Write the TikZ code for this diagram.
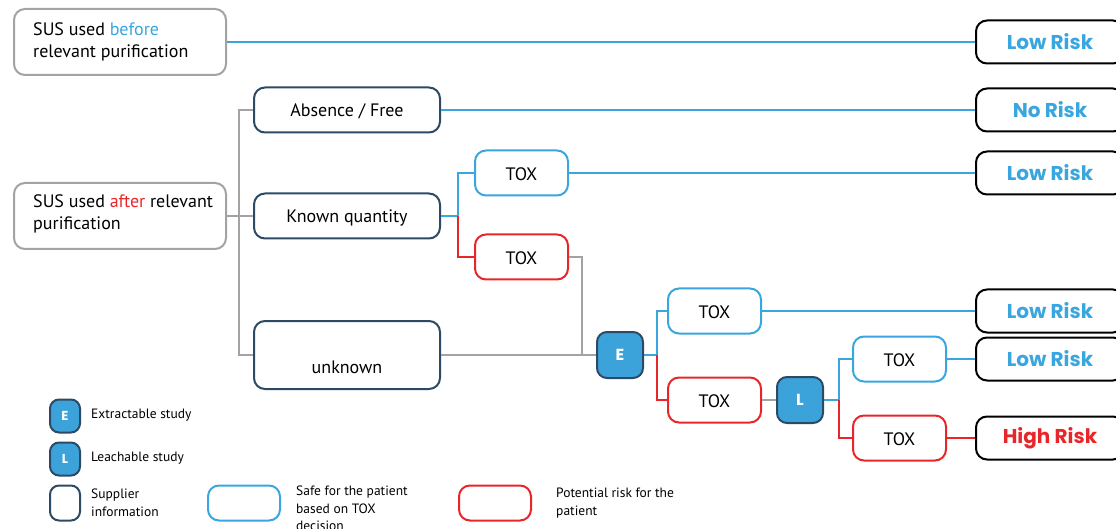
\documentclass[tikz,border=0pt]{standalone}
\usepackage{fontspec}
\setmainfont{PT Sans}
\newfontfamily\riskfont{Poppins}[UprightFont=* Bold]
\definecolor{cblue}{HTML}{3AA6DF}
\definecolor{cred}{HTML}{E8262A}
\definecolor{cgray}{HTML}{A3A3A3}
\definecolor{cnavy}{HTML}{2C4A66}
\definecolor{cfill}{HTML}{3BA3DA}
\tikzset{
  base/.style={rounded corners=11pt, line width=2pt, fill=white, inner sep=0pt, font=\fontsize{18}{22}\selectfont},
  susbox/.style={base, draw=cgray, minimum width=212pt, minimum height=66pt},
  supbox/.style={base, draw=cnavy, minimum width=186pt, minimum height=45pt},
  safebox/.style={base, draw=cblue, minimum width=93pt, minimum height=45pt},
  riskbox/.style={base, draw=cred, minimum width=93pt, minimum height=45pt},
  outbox/.style={base, draw=black, minimum width=148pt, minimum height=43pt, font=\riskfont\fontsize{20}{22}\selectfont},
  studybox/.style={rounded corners=10pt, line width=2pt, draw=cnavy, fill=cfill, text=white, minimum width=46pt, minimum height=46pt, inner sep=0pt, font=\riskfont\fontsize{16}{18}\selectfont},
  legicon/.style={rounded corners=9pt, line width=2pt, draw=cnavy, fill=cfill, text=white, minimum width=30pt, minimum height=33pt, inner sep=0pt, font=\riskfont\fontsize{13}{15}\selectfont},
  legtext/.style={anchor=west, align=left, inner sep=0pt, font=\fontsize{13.5}{17.5}\selectfont},
  maintext/.style={inner sep=0pt, font=\fontsize{18}{22}\selectfont},
  gl/.style={draw=cgray, line width=2pt},
  bl/.style={draw=cblue, line width=2pt},
  rl/.style={draw=cred, line width=2pt},
}
\begin{document}
\begin{tikzpicture}[x=1pt,y=-1pt]
\useasboundingbox (0,0) rectangle (1116,529);
\clip (0,0) rectangle (1116,529);
% boxes
\node[susbox] (sus1) at (120,42) {};
\node[susbox] (sus2) at (120,216) {};
\node[supbox] (abs) at (347,110) {};
\node[supbox] (known) at (347,216) {};
\node[supbox, minimum height=68pt] (unk) at (347,355) {};
\node[safebox] (tox1) at (521.5,173) {};
\node[riskbox] (tox2) at (521.5,257) {};
\node[studybox] (E) at (620,355) {E};
\node[safebox] (tox3) at (714.5,311) {};
\node[riskbox] (tox4) at (714.5,400) {};
\node[studybox] (L) at (800,400) {L};
\node[safebox] (tox5) at (899.5,359) {};
\node[riskbox] (tox6) at (899.5,438) {};
\node[outbox, text=cblue] (r1) at (1050,42) {Low Risk};
\node[outbox, text=cblue] (r2) at (1050,110) {No Risk};
\node[outbox, text=cblue] (r3) at (1050,173) {Low Risk};
\node[outbox, text=cblue] (r4) at (1050,311) {Low Risk};
\node[outbox, text=cblue] (r5) at (1050,359) {Low Risk};
\node[outbox, text=cred] (r6) at (1050,438) {High Risk};
% texts
\node[maintext, anchor=west, align=left] (t1) at (33,42) {SUS used \textcolor{cblue}{before}\\relevant purification};
\node[maintext, anchor=west, align=left] (t2) at (33,214) {SUS used \textcolor{cred}{after} relevant\\purification};
\node[maintext] at ([yshift=-1.5pt]abs.center) {Absence / Free};
\node[maintext] at ([yshift=-1.5pt]known.center) {Known quantity};
\node[maintext] at (347,367) {unknown};
\foreach \t in {tox1,tox2,tox3,tox4,tox5,tox6}{
  \node[maintext] at ([yshift=-1pt]\t.center) {TOX};
}
% connectors
\draw[bl] (sus1.east) -- (r1.west);
\draw[bl] (abs.east) -- (r2.west);
\draw[gl] (sus2.east) -- (known.west);
\draw[gl] (abs.west) -- ++(-14,0) |- (unk.west);
\draw[bl] (known.east) -- ++(17,0) |- (tox1.west);
\draw[rl] ([xshift=17pt]known.east) |- (tox2.west);
\draw[bl] (tox1.east) -- (r3.west);
\draw[gl] (tox2.east) -- ++(13,0) |- (E.west);
\draw[gl] (unk.east) -- (E.west);
\draw[bl] (E.east) -- ++(13,0) |- (tox3.west);
\draw[rl] ([xshift=13pt]E.east) |- (tox4.west);
\draw[bl] (tox3.east) -- (r4.west);
\draw[gl] (tox4.east) -- (L.west);
\draw[bl] (L.east) -- ++(15,0) |- (tox5.west);
\draw[rl] ([xshift=15pt]L.east) |- (tox6.west);
\draw[bl] (tox5.east) -- (r5.west);
\draw[rl] (tox6.east) -- (r6.west);
% legend
\node[legicon] (le) at (65,416) {E};
\node[legtext] (lte) at (91,415) {Extractable study};
\node[legicon] (ll) at (65,459) {L};
\node[legtext] (ltl) at (91,458) {Leachable study};
\node[legicon, fill=white, minimum height=35pt] (ls) at (65,503) {};
\node[legtext] (lts) at (91,503) {Supplier\\information};
\node[base, draw=cblue, minimum width=72pt, minimum height=35pt] (lb) at (244,503) {};
\node[legtext, anchor=north west] (ltb) at (296,486) {Safe for the patient\\based on TOX\\decision};
\node[base, draw=cred, minimum width=72pt, minimum height=35pt] (lr) at (495,503) {};
\node[legtext] (ltr) at (556,503) {Potential risk for the\\patient};
\end{tikzpicture}
\end{document}
